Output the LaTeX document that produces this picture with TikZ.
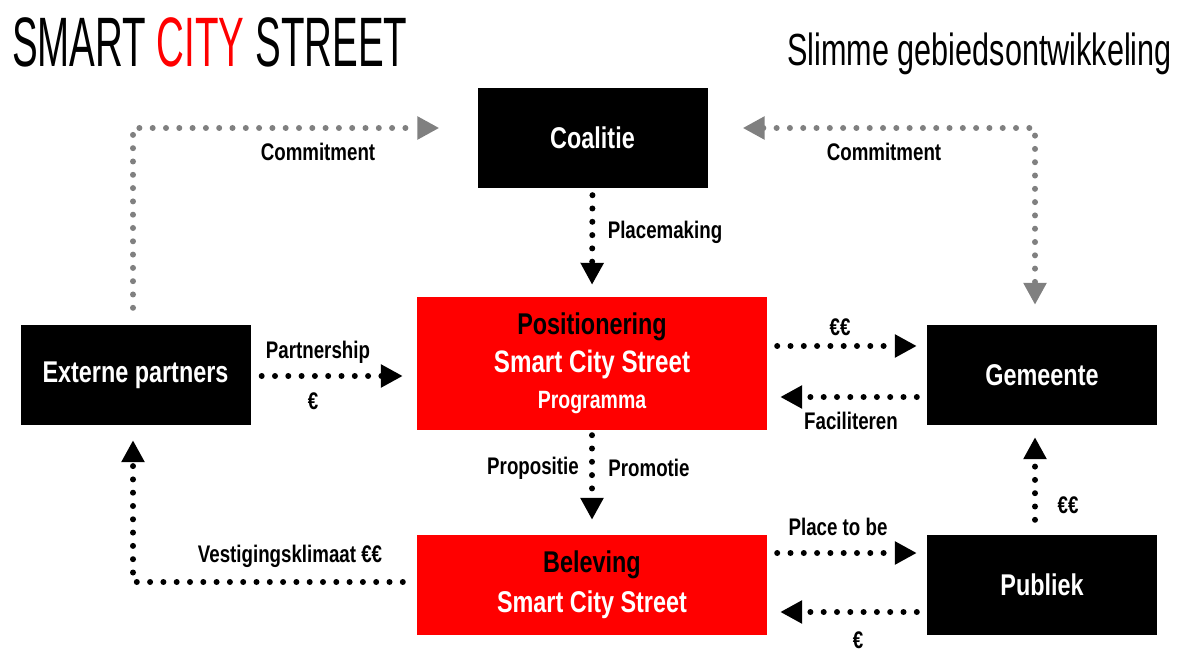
\documentclass[tikz,border=0pt]{standalone}
\usepackage{fontspec}
\setmainfont{Liberation Sans}[FakeStretch=0.78]
\newfontfamily\titlefont{Liberation Sans}[FakeStretch=0.55]
\newfontfamily\subtitlefont{Liberation Sans}[FakeStretch=0.68]
\usetikzlibrary{arrows.meta, positioning}
\definecolor{cityred}{RGB}{255,0,0}
\definecolor{linegrey}{RGB}{128,128,128}
\tikzstyle{blackbox} = [rectangle, minimum width=230pt, minimum height=100pt, inner sep=0pt, fill=black, text=white, font=\bfseries\fontsize{30}{36}\selectfont, align=center]
\tikzstyle{redbox} = [blackbox, minimum width=350pt, fill=cityred, text=black]
\tikzstyle{dotarrow} = [line width=6pt, line cap=round, dash pattern=on 0pt off 13.3pt, ->, >={Triangle[length=22pt, width=22pt]}]
\tikzstyle{lbl} = [inner sep=0pt, font=\bfseries\fontsize{24}{28}\selectfont]

\begin{document}
\begin{tikzpicture}[x=1pt, y=-1pt]
\useasboundingbox (0,0) rectangle (1181,652);

\node [anchor=base west, inner sep=0pt, font=\titlefont\fontsize{70}{70}\selectfont] (title) at (12,67) {SMART \textcolor{cityred}{CITY} STREET};
\node [anchor=base east, inner sep=0pt, font=\subtitlefont\fontsize{45}{45}\selectfont] (subtitle) at (1172,66) {Slimme gebiedsontwikkeling};

\node at (592.5,138) (coalitie) [blackbox] {Coalitie};
\node at (592,363.5) (positionering) [redbox, minimum height=133pt] {Positionering\\[2pt] \textcolor{white}{\fontsize{31}{36}\selectfont Smart City Street}\\ \textcolor{white}{\fontsize{25}{30}\selectfont Programma}};
\node at (135.5,375) (externe) [blackbox] {Externe partners};
\node at (1042,375) (gemeente) [blackbox] {Gemeente};
\node at (592,585) (beleving) [redbox] {Beleving\\[4pt] \textcolor{white}{Smart City Street}};
\node at (1042,585) (publiek) [blackbox] {Publiek};

\draw [dotarrow, draw=linegrey, shorten <=17pt, shorten >=38pt] ([xshift=-2.5pt]externe.north) |- ([yshift=10pt]coalitie.west);
\draw [dotarrow, draw=linegrey, <->, shorten <=35pt, shorten >=20pt] ([yshift=10pt]coalitie.east) -| ([xshift=-7pt]gemeente.north);
\draw [dotarrow, shorten <=7pt, shorten >=12pt] (coalitie.south) -- (positionering.north);
\draw [dotarrow, shorten <=11pt, shorten >=14pt] ([yshift=-1pt]externe.east) -- ([yshift=-12.5pt]positionering.west);
\draw [dotarrow, shorten <=10pt, shorten >=10pt] ([yshift=17.5pt]positionering.east) -- ([yshift=29pt]gemeente.west);
\draw [dotarrow, shorten <=10pt, shorten >=13pt] ([yshift=-22pt]gemeente.west) -- ([yshift=-33.5pt]positionering.east);
\draw [dotarrow, shorten <=5pt, shorten >=15pt] (positionering.south) -- (beleving.north);
\draw [dotarrow, shorten <=14pt, shorten >=15pt] ([yshift=3pt]beleving.west) -| ([xshift=-2.5pt]externe.south);
\draw [dotarrow, shorten <=10pt, shorten >=10pt] ([yshift=32pt]beleving.east) -- ([yshift=32pt]publiek.west);
\draw [dotarrow, shorten <=10pt, shorten >=13pt] ([yshift=-27pt]publiek.west) -- ([yshift=-27pt]beleving.east);
\draw [dotarrow, shorten <=15pt, shorten >=12pt] ([xshift=-7pt]publiek.north) -- ([xshift=-7pt]gemeente.south);

% labels
\node [lbl] at (318,152) {Commitment};
\node [lbl] at (884,152) {Commitment};
\node [lbl] at (665,232) {Placemaking};
\node [lbl] at (318,352) {Partnership};
\node [lbl] at (313,401) {€};
\node [lbl] at (840,327) {€€};
\node [lbl] at (851,421) {Faciliteren};
\node [lbl] at (533,468) {Propositie};
\node [lbl] at (649,468) {Promotie};
\node [lbl] at (290,556) {Vestigingsklimaat €€};
\node [lbl] at (838,527) {Place to be};
\node [lbl] at (858,640) {€};
\node [lbl] at (1068,505) {€€};

\end{tikzpicture}
\end{document}
